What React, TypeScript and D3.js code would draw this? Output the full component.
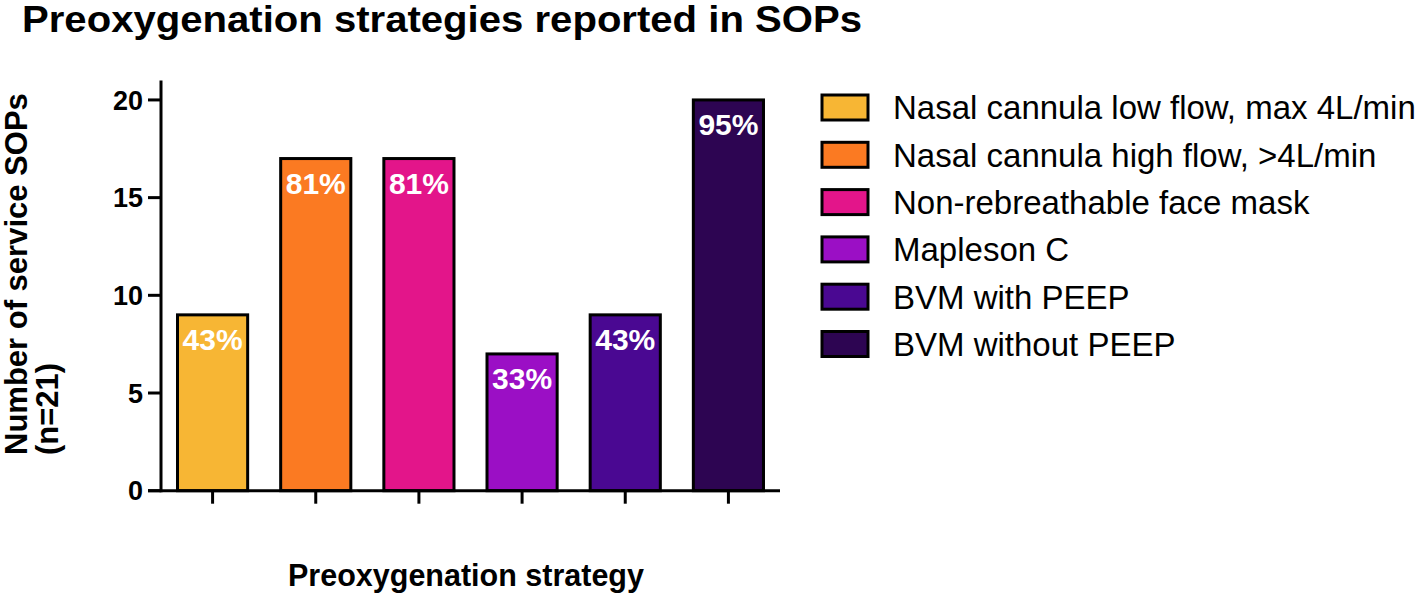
import React from "react";
import * as d3 from "d3";

const categories = [
  "Nasal cannula low flow, max 4L/min",
  "Nasal cannula high flow, >4L/min",
  "Non-rebreathable face mask",
  "Mapleson C",
  "BVM with PEEP",
  "BVM without PEEP",
];
const counts = [9, 17, 17, 7, 9, 20];
const percentLabels = ["43%", "81%", "81%", "33%", "43%", "95%"];
const colors = ["#F7B634", "#FB7A22", "#E3158A", "#9B0FC5", "#4A0892", "#2D0552"];
const yTicks = [0, 5, 10, 15, 20];

const W = 1418;
const H = 595;
const FONT = "'Liberation Sans', Arial, Helvetica, sans-serif";

export default function App() {
  const x = d3.scaleBand<string>().domain(categories).range([161, 780]).paddingInner(0.32).paddingOuter(0.16);
  const y = d3.scaleLinear().domain([0, 21]).range([490.7, 80.4]);
  const legendY = d3.scaleBand<string>().domain(categories).range([95, 95 + 47.3 * 6]);

  return (
    <div style={{ position: "absolute", left: 0, top: 0 }}>
      <svg width={W} height={H} style={{ display: "block", background: "#fff" }} fontFamily={FONT}>
        <text x={22} y={32} fontSize={36} fontWeight="bold" fill="#000" textLength={840} lengthAdjust="spacingAndGlyphs">
          Preoxygenation strategies reported in SOPs
        </text>

        {/* bars */}
        {categories.map((c, i) => (
          <g key={c}>
            <rect
              x={x(c)!}
              y={y(counts[i])}
              width={x.bandwidth()}
              height={y(0) - y(counts[i])}
              fill={colors[i]}
              stroke="#000"
              strokeWidth={3}
            />
            <text
              x={x(c)! + x.bandwidth() / 2}
              y={y(counts[i]) + 35}
              textAnchor="middle"
              fontSize={30}
              fontWeight="bold"
              fill="#fff"
            >
              {percentLabels[i]}
            </text>
          </g>
        ))}

        {/* y axis */}
        <line x1={161} x2={161} y1={y.range()[1]} y2={y(0) + 1.5} stroke="#000" strokeWidth={3} />
        {yTicks.map((t) => (
          <g key={t}>
            <line x1={148} x2={161} y1={y(t)} y2={y(t)} stroke="#000" strokeWidth={3} />
            <text x={143} y={y(t)} dy="0.36em" textAnchor="end" fontSize={27} fontWeight="bold">
              {t}
            </text>
          </g>
        ))}

        {/* x axis */}
        <line x1={148} x2={780} y1={y(0)} y2={y(0)} stroke="#000" strokeWidth={3} />
        {categories.map((c) => (
          <line
            key={c}
            x1={x(c)! + x.bandwidth() / 2}
            x2={x(c)! + x.bandwidth() / 2}
            y1={y(0)}
            y2={y(0) + 13}
            stroke="#000"
            strokeWidth={3}
          />
        ))}

        {/* axis titles */}
        <text x={466} y={586} textAnchor="middle" fontSize={30.5} fontWeight="bold">
          Preoxygenation strategy
        </text>
        <g transform="translate(27,455) rotate(-90)">
          <text x={0} y={0} fontSize={31} fontWeight="bold">
            Number of service SOPs
          </text>
          <text x={0} y={31} fontSize={31} fontWeight="bold">
            (n=21)
          </text>
        </g>

        {/* legend */}
        {categories.map((c, i) => (
          <g key={c} transform={`translate(0,${legendY(c)!})`}>
            <rect x={822} y={0} width={46} height={25} fill={colors[i]} stroke="#000" strokeWidth={3} />
            <text x={893} y={12.5} dy="0.36em" fontSize={33}>
              {c}
            </text>
          </g>
        ))}
      </svg>
    </div>
  );
}
